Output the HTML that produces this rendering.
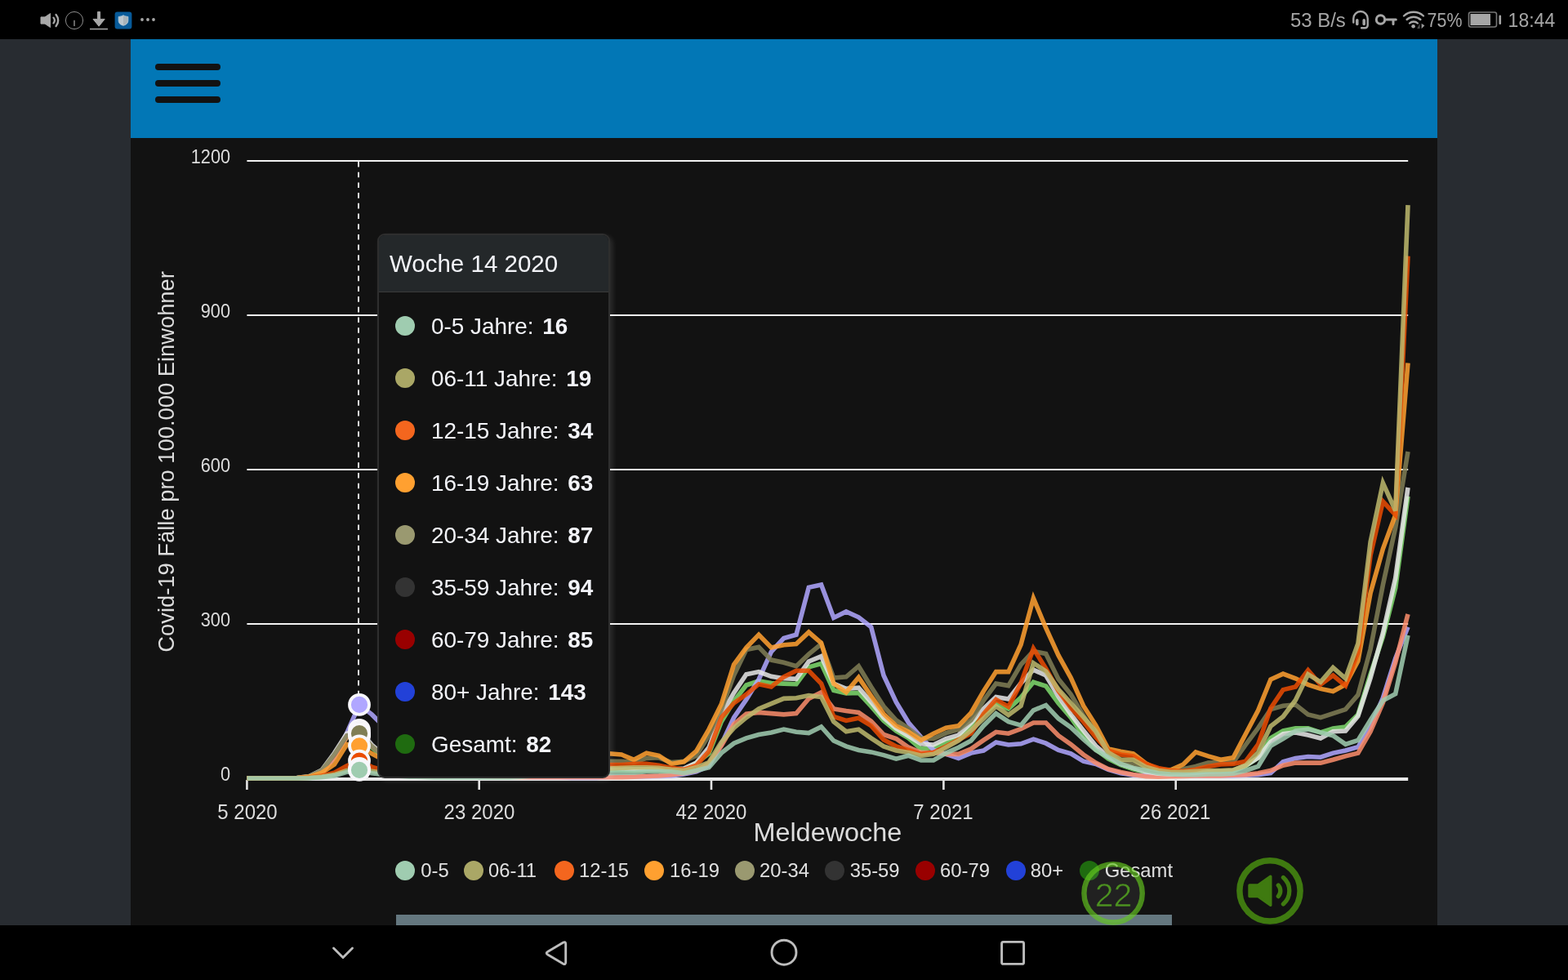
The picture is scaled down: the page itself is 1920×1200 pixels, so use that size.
<!DOCTYPE html>
<html lang="de">
<head>
<meta charset="utf-8">
<title>Covid-19 Fälle pro 100.000 Einwohner</title>
<style>

html,body{margin:0;padding:0;}
body{width:1920px;height:1200px;overflow:hidden;background:#282c31;position:relative;
  font-family:"Liberation Sans","DejaVu Sans",sans-serif;color:#e6e6e6;}
.statusbar{position:absolute;left:0;top:0;width:1920px;height:48px;background:#000;}
.statusbar svg{position:absolute;left:0;top:0;}
.sbt text{font-family:"Liberation Sans","DejaVu Sans",sans-serif;font-size:24.6px;fill:#a6a6a6;}
.appbar{position:absolute;left:160px;top:48px;width:1600px;height:121px;background:#0277b6;}
.burger{position:absolute;left:30px;top:30px;width:80px;height:48px;}
.burger span{position:absolute;left:0;width:80px;height:8px;border-radius:4px;background:#121212;}
.chart{position:absolute;left:160px;top:169px;width:1600px;height:964px;background:#121212;overflow:hidden;}
.plot{position:absolute;left:-160px;top:-169px;}
.grid{stroke:#f2f2f2;stroke-width:2;}
.axis{stroke:#e8e8e8;stroke-width:4;}
.tick{stroke:#e4e4e4;stroke-width:2.6;}
.cursor{stroke:#e0e0e0;stroke-width:2;stroke-dasharray:6.6 6.1;}
.series polyline{fill:none;stroke-width:5.6;stroke-linejoin:miter;stroke-linecap:butt;opacity:.86;}
.dots circle{stroke:#f8f7fb;stroke-width:3.8;}
.plot text{font-family:"Liberation Sans","DejaVu Sans",sans-serif;fill:#dcdcdc;}
.ylab{font-size:23px;text-anchor:end;}
.xlab{font-size:25px;text-anchor:middle;}
.xtitle{font-size:31px;text-anchor:middle;fill:#d9dfdc;}
.ytitle{font-size:28px;text-anchor:middle;fill:#d3dbd6;}
.tip{position:absolute;left:302px;top:117px;width:285px;height:667px;box-sizing:border-box;
  background:#121212;border:2px solid #2e2e2e;border-radius:9px;overflow:hidden;
  box-shadow:3px 3px 6px rgba(255,255,255,.12);}
.tip h3{margin:0;height:69px;line-height:70px;padding-left:13px;font-weight:400;font-size:29.5px;color:#f3f4f9;
  background:#24282a;border-bottom:1px solid #3a3a3a;white-space:nowrap;}
.tip ul{list-style:none;margin:0;padding:9px 0 0 0;}
.tip li{position:relative;height:64px;line-height:65px;padding-left:64px;font-size:27.9px;color:#f3f4f9;white-space:nowrap;}
.tip li i{position:absolute;left:20px;top:20px;width:24px;height:24px;border-radius:50%;}
.tip li b{font-weight:700;margin-left:3px;}
.legend{position:absolute;left:0;top:0;}
.legend span{position:absolute;top:884px;height:26px;line-height:26px;font-size:23.8px;color:#e0e0e0;white-space:nowrap;}
.legend i{position:absolute;top:885px;width:24px;height:24px;border-radius:50%;}
.navbar{position:absolute;left:0;top:1133px;width:1920px;height:67px;background:#000;}
.scroll{position:absolute;left:325px;top:951px;width:950px;height:13px;background:#64777f;}
.fab{position:absolute;}
</style>
</head>
<body>
<div class="statusbar">
<svg width="1920" height="48" viewBox="0 0 1920 48">
<g fill="#a8a8a8" stroke="none">
<path d="M50 20.900h5l6.600-4.400v17l-6.600-4.400h-5z" stroke="#a8a8a8" stroke-width="1" stroke-linejoin="round"/>
<path d="M119.600 14.400h3v9h5.600l-7.100 8.800-7.100-8.800h5.600z" stroke="#a8a8a8" stroke-width="1" stroke-linejoin="round"/>
<rect x="110" y="34.8" width="22" height="1.5"/>
<circle cx="174" cy="24" r="1.9"/><circle cx="181" cy="24" r="1.9"/><circle cx="188" cy="24" r="1.9"/>
</g>
<g fill="none" stroke="#a8a8a8" stroke-linecap="round"><path d="M65.500 21.600a5.400 5.400 0 0 1 0 6.800" stroke-width="2.300"/><path d="M68.600 17.900a11 11 0 0 1 0 14.200" stroke-width="2.400"/></g>
<circle cx="91" cy="25" r="10.6" fill="none" stroke="#8c8c8c" stroke-width="1"/>
<rect x="90.100" y="24.800" width="1.800" height="7.200" fill="#727272"/>
<rect x="140.600" y="14.600" width="20.800" height="20.800" rx="3" fill="#075a99"/>
<path d="M151 18.700c1.900 1.100 3.800 1.500 5.900 1.700v4.800c0 3.400-2.500 5.200-5.900 6.100c-3.400-.9-5.900-2.700-5.900-6.100v-4.800c2.100-.2 4-.6 5.900-1.700z" fill="#bcc7ce" stroke="#a9c6dc" stroke-width=".8" stroke-linejoin="round"/>
<path d="M151 19.200c1.800 1 3.600 1.300 5.400 1.500v4.500c0 3-2.200 4.700-5.400 5.600z" fill="#a7b2b9"/>
<g fill="none" stroke="#a6a6a6" stroke-width="2.4" stroke-linecap="round">
<path d="M1657.300 27.600v-4.900a8.700 8.700 0 0 1 17.400 0v8.400a3.200 3.200 0 0 1-3.200 3.200h-4.400"/>
<path d="M1661.800 24.800v4.800" stroke-width="3.500"/><path d="M1670.200 24.800v4.800" stroke-width="3.500"/>
<circle cx="1690.500" cy="24" r="5.200" stroke-width="3"/>
<path d="M1696 24h13.300M1706 24v5.600" stroke-width="3" stroke-linecap="round"/>
<path d="M1719 19.500a17.500 17.500 0 0 1 24 0"/>
<path d="M1722.600 24a12.300 12.300 0 0 1 16.800 0"/>
<path d="M1726 28.500a7.300 7.300 0 0 1 10 0"/>
<rect x="1798.500" y="15" width="34" height="18" rx="2.500" stroke="#777" stroke-width="1.600"/>
</g>
<circle cx="1730.600" cy="32.300" r="2.300" fill="#a6a6a6"/>
<path d="M1738.600 28.800v6.300h-3.400z" fill="#505050"/><path d="M1740.600 28.800l3.800 2.400-3.800 4z" fill="#9a9a9a"/>
<rect x="1800.500" y="17" width="24.500" height="14" fill="#a6a6a6"/>
<rect x="1835.500" y="18.500" width="2.600" height="11.500" rx="1.300" fill="#a6a6a6"/>
<g class="sbt">
<text x="1580" y="33.1" textLength="67.8" lengthAdjust="spacingAndGlyphs">53 B/s</text>
<text x="1747.6" y="33.1" textLength="42.8" lengthAdjust="spacingAndGlyphs">75%</text>
<text x="1846.6" y="33.1" textLength="57.6" lengthAdjust="spacingAndGlyphs">18:44</text>
</g>
</svg>
</div>
<div class="appbar"><div class="burger"><span style="top:0"></span><span style="top:20px"></span><span style="top:40px"></span></div></div>
<div class="chart">
<svg class="plot" width="1920" height="1200" viewBox="0 0 1920 1200">
<line class="grid" x1="302.4" x2="1724.2" y1="197" y2="197"/>
<line class="grid" x1="302.4" x2="1724.2" y1="386" y2="386"/>
<line class="grid" x1="302.4" x2="1724.2" y1="575" y2="575"/>
<line class="grid" x1="302.4" x2="1724.2" y1="764" y2="764"/>
<line class="axis" x1="302.4" x2="1724.2" y1="954" y2="954"/>
<line class="tick" x1="302.4" x2="302.4" y1="955" y2="967"/>
<line class="tick" x1="586.7" x2="586.7" y1="955" y2="967"/>
<line class="tick" x1="871.0" x2="871.0" y1="955" y2="967"/>
<line class="tick" x1="1155.4" x2="1155.4" y1="955" y2="967"/>
<line class="tick" x1="1439.7" x2="1439.7" y1="955" y2="967"/>
<line class="cursor" x1="439" x2="439" y1="198" y2="850"/>
<g class="series">
<polyline stroke="#7fda6d" points="302.4,953.0 317.7,953.0 333.0,953.0 348.3,953.0 363.5,952.7 378.8,951.1 394.1,944.8 409.4,925.9 424.7,902.6 440.0,901.3 455.3,915.2 470.5,927.8 485.8,935.4 501.1,940.4 516.4,943.5 531.7,945.4 547.0,946.7 562.3,947.3 577.5,947.3 592.8,947.3 608.1,946.7 623.4,946.7 638.7,946.1 654.0,946.1 669.3,945.4 684.6,944.8 699.8,944.2 715.1,943.5 730.4,942.9 745.7,942.9 761.0,942.9 776.3,943.5 791.6,942.9 806.8,942.9 822.1,944.2 837.4,942.9 852.7,934.1 868.0,922.8 883.3,883.7 898.6,858.5 913.8,839.0 929.1,833.9 944.4,836.5 959.7,837.1 975.0,837.7 990.3,816.9 1005.6,812.5 1020.8,845.3 1036.1,849.0 1051.4,848.4 1066.7,864.8 1082.0,882.4 1097.3,895.0 1112.6,903.9 1127.8,917.1 1143.1,915.2 1158.4,908.9 1173.7,904.5 1189.0,890.0 1204.3,874.2 1219.6,861.6 1234.8,868.0 1250.1,854.1 1265.4,835.2 1280.7,840.2 1296.0,861.0 1311.3,878.7 1326.6,900.7 1341.8,917.7 1357.1,929.1 1372.4,936.6 1387.7,941.7 1403.0,945.4 1418.3,948.0 1433.6,948.6 1448.9,948.0 1464.1,946.7 1479.4,945.4 1494.7,944.8 1510.0,944.2 1525.3,937.9 1540.6,927.8 1555.9,903.9 1571.1,895.0 1586.4,891.9 1601.7,891.9 1617.0,896.9 1632.3,891.9 1647.6,890.0 1662.9,874.9 1678.1,825.7 1693.4,779.8 1708.7,719.9 1724.0,607.8"/>
<polyline stroke="#b0a6ff" points="302.4,953.0 317.7,953.0 333.0,953.0 348.3,953.0 363.5,952.8 378.8,951.7 394.1,946.7 409.4,927.8 424.7,897.6 440.0,862.9 455.3,874.9 470.5,890.0 485.8,905.8 501.1,918.4 516.4,927.8 531.7,935.4 547.0,940.4 562.3,944.2 577.5,946.7 592.8,948.6 608.1,949.9 623.4,950.5 638.7,951.1 654.0,951.7 669.3,951.7 684.6,951.7 699.8,952.4 715.1,952.4 730.4,952.4 745.7,951.1 761.0,951.1 776.3,951.1 791.6,950.8 806.8,950.5 822.1,949.9 837.4,948.0 852.7,944.8 868.0,937.9 883.3,911.4 898.6,878.7 913.8,856.6 929.1,832.0 944.4,798.0 959.7,781.6 975.0,777.2 990.3,719.3 1005.6,716.1 1020.8,756.4 1036.1,748.9 1051.4,755.8 1066.7,767.8 1082.0,827.0 1097.3,859.8 1112.6,885.0 1127.8,902.6 1143.1,918.4 1158.4,923.4 1173.7,928.4 1189.0,922.1 1204.3,919.0 1219.6,908.9 1234.8,912.0 1250.1,910.8 1265.4,905.1 1280.7,910.2 1296.0,918.4 1311.3,922.8 1326.6,932.2 1341.8,935.4 1357.1,942.3 1372.4,946.7 1387.7,949.2 1403.0,949.9 1418.3,949.9 1433.6,949.9 1448.9,949.9 1464.1,949.9 1479.4,949.9 1494.7,949.9 1510.0,949.9 1525.3,949.2 1540.6,948.6 1555.9,946.7 1571.1,932.8 1586.4,928.4 1601.7,926.5 1617.0,927.2 1632.3,922.1 1647.6,919.0 1662.9,914.6 1678.1,890.0 1693.4,854.7 1708.7,806.2 1724.0,767.8"/>
<polyline stroke="#fa8d6b" points="302.4,953.0 317.7,953.0 333.0,953.0 348.3,953.0 363.5,952.7 378.8,951.1 394.1,945.4 409.4,926.5 424.7,902.6 440.0,899.5 455.3,913.9 470.5,925.3 485.8,932.8 501.1,938.5 516.4,942.9 531.7,946.1 547.0,948.0 562.3,949.2 577.5,949.9 592.8,950.5 608.1,951.1 623.4,951.1 638.7,951.7 654.0,951.7 669.3,951.7 684.6,951.7 699.8,951.7 715.1,951.7 730.4,951.7 745.7,951.7 761.0,951.7 776.3,951.1 791.6,950.5 806.8,949.9 822.1,948.6 837.4,946.7 852.7,943.5 868.0,934.7 883.3,913.3 898.6,886.9 913.8,874.2 929.1,872.4 944.4,873.6 959.7,874.9 975.0,873.6 990.3,855.4 1005.6,847.8 1020.8,868.0 1036.1,870.5 1051.4,872.4 1066.7,883.1 1082.0,899.5 1097.3,904.5 1112.6,915.2 1127.8,921.5 1143.1,921.5 1158.4,923.4 1173.7,923.4 1189.0,917.1 1204.3,906.4 1219.6,896.3 1234.8,898.2 1250.1,892.5 1265.4,885.0 1280.7,885.0 1296.0,900.7 1311.3,911.4 1326.6,924.0 1341.8,934.1 1357.1,941.7 1372.4,945.4 1387.7,948.6 1403.0,950.8 1418.3,951.1 1433.6,950.8 1448.9,950.5 1464.1,949.9 1479.4,949.9 1494.7,949.9 1510.0,949.2 1525.3,948.6 1540.6,946.7 1555.9,943.5 1571.1,937.2 1586.4,934.1 1601.7,934.1 1617.0,934.1 1632.3,930.3 1647.6,925.9 1662.9,922.1 1678.1,895.7 1693.4,860.4 1708.7,811.2 1724.0,752.0"/>
<polyline stroke="#e6e6e6" points="302.4,953.0 317.7,953.0 333.0,953.0 348.3,953.0 363.5,952.6 378.8,950.5 394.1,942.9 409.4,922.1 424.7,898.2 440.0,893.8 455.3,912.0 470.5,925.3 485.8,933.5 501.1,938.5 516.4,942.3 531.7,944.2 547.0,945.4 562.3,946.1 577.5,946.1 592.8,946.1 608.1,945.4 623.4,945.4 638.7,944.8 654.0,944.2 669.3,943.5 684.6,942.9 699.8,942.3 715.1,941.7 730.4,941.0 745.7,940.4 761.0,941.0 776.3,941.7 791.6,941.7 806.8,941.7 822.1,942.3 837.4,941.0 852.7,934.1 868.0,915.2 883.3,874.9 898.6,848.4 913.8,825.7 929.1,822.6 944.4,828.3 959.7,830.8 975.0,831.4 990.3,810.0 1005.6,803.7 1020.8,837.1 1036.1,843.4 1051.4,842.1 1066.7,859.8 1082.0,878.7 1097.3,891.9 1112.6,901.3 1127.8,910.8 1143.1,912.0 1158.4,904.5 1173.7,900.1 1189.0,885.0 1204.3,868.0 1219.6,853.5 1234.8,856.0 1250.1,836.5 1265.4,820.1 1280.7,827.0 1296.0,852.8 1311.3,874.9 1326.6,894.4 1341.8,913.3 1357.1,926.5 1372.4,935.4 1387.7,940.4 1403.0,944.8 1418.3,947.3 1433.6,948.0 1448.9,947.3 1464.1,946.1 1479.4,944.8 1494.7,944.2 1510.0,943.5 1525.3,937.2 1540.6,927.8 1555.9,908.3 1571.1,898.8 1586.4,896.9 1601.7,900.1 1617.0,903.9 1632.3,895.7 1647.6,895.0 1662.9,876.8 1678.1,830.1 1693.4,775.3 1708.7,707.9 1724.0,597.0"/>
<polyline stroke="#807e55" points="302.4,953.0 317.7,953.0 333.0,953.0 348.3,953.0 363.5,952.6 378.8,950.5 394.1,943.5 409.4,924.0 424.7,900.7 440.0,898.2 455.3,913.9 470.5,926.5 485.8,934.1 501.1,939.1 516.4,942.3 531.7,943.5 547.0,944.2 562.3,944.2 577.5,943.5 592.8,942.9 608.1,942.3 623.4,941.0 638.7,939.8 654.0,938.5 669.3,937.2 684.6,936.0 699.8,934.7 715.1,933.5 730.4,932.8 745.7,932.2 761.0,932.2 776.3,933.5 791.6,928.4 806.8,927.8 822.1,933.5 837.4,932.2 852.7,925.3 868.0,900.1 883.3,869.2 898.6,827.0 913.8,795.5 929.1,792.4 944.4,808.1 959.7,811.2 975.0,815.7 990.3,801.2 1005.6,788.6 1020.8,830.1 1036.1,828.9 1051.4,815.7 1066.7,840.9 1082.0,864.8 1097.3,881.8 1112.6,891.9 1127.8,903.9 1143.1,904.5 1158.4,897.6 1173.7,893.1 1189.0,881.8 1204.3,857.9 1219.6,837.1 1234.8,839.6 1250.1,813.8 1265.4,797.4 1280.7,800.5 1296.0,831.4 1311.3,850.3 1326.6,876.1 1341.8,898.8 1357.1,921.5 1372.4,934.1 1387.7,935.4 1403.0,942.3 1418.3,944.8 1433.6,944.8 1448.9,941.7 1464.1,938.5 1479.4,934.1 1494.7,933.5 1510.0,933.5 1525.3,912.0 1540.6,891.3 1555.9,868.6 1571.1,864.2 1586.4,862.9 1601.7,874.9 1617.0,878.7 1632.3,873.6 1647.6,868.6 1662.9,850.9 1678.1,794.9 1693.4,716.1 1708.7,646.2 1724.0,553.0"/>
<polyline stroke="#ffa030" points="302.4,953.0 317.7,953.0 333.0,953.0 348.3,953.0 363.5,952.7 378.8,951.1 394.1,946.1 409.4,936.0 424.7,911.4 440.0,913.3 455.3,922.8 470.5,931.0 485.8,937.2 501.1,941.7 516.4,944.2 531.7,945.4 547.0,945.4 562.3,944.8 577.5,944.2 592.8,942.9 608.1,941.7 623.4,940.4 638.7,937.9 654.0,935.4 669.3,932.8 684.6,930.3 699.8,927.8 715.1,925.3 730.4,923.4 745.7,922.8 761.0,924.0 776.3,930.3 791.6,922.1 806.8,925.3 822.1,935.4 837.4,932.8 852.7,919.6 868.0,893.1 883.3,862.3 898.6,813.8 913.8,793.0 929.1,777.2 944.4,793.0 959.7,789.8 975.0,788.6 990.3,774.1 1005.6,787.3 1020.8,837.1 1036.1,847.8 1051.4,829.5 1066.7,852.2 1082.0,874.2 1097.3,888.7 1112.6,896.3 1127.8,906.4 1143.1,898.2 1158.4,891.3 1173.7,888.7 1189.0,873.0 1204.3,846.5 1219.6,822.6 1234.8,822.6 1250.1,789.2 1265.4,732.5 1280.7,769.0 1296.0,802.4 1311.3,830.1 1326.6,864.2 1341.8,888.1 1357.1,917.1 1372.4,920.2 1387.7,922.8 1403.0,934.7 1418.3,942.3 1433.6,942.9 1448.9,936.0 1464.1,920.9 1479.4,925.9 1494.7,930.3 1510.0,927.8 1525.3,898.8 1540.6,869.8 1555.9,832.0 1571.1,825.1 1586.4,830.8 1601.7,838.3 1617.0,843.4 1632.3,846.5 1647.6,838.3 1662.9,809.4 1678.1,726.2 1693.4,672.0 1708.7,630.4 1724.0,444.6"/>
<polyline stroke="#ea4c02" points="302.4,953.0 317.7,953.0 333.0,953.0 348.3,953.0 363.5,952.8 378.8,952.1 394.1,949.9 409.4,946.1 424.7,937.9 440.0,931.6 455.3,939.1 470.5,943.5 485.8,946.7 501.1,948.0 516.4,949.2 531.7,949.2 547.0,949.2 562.3,948.6 577.5,948.0 592.8,947.3 608.1,946.7 623.4,945.4 638.7,944.8 654.0,943.5 669.3,942.3 684.6,941.0 699.8,939.8 715.1,938.5 730.4,937.2 745.7,936.6 761.0,936.6 776.3,935.4 791.6,935.4 806.8,937.2 822.1,940.4 837.4,942.3 852.7,937.2 868.0,920.2 883.3,878.7 898.6,861.0 913.8,850.3 929.1,837.7 944.4,840.9 959.7,828.9 975.0,821.3 990.3,821.3 1005.6,837.1 1020.8,877.4 1036.1,882.4 1051.4,879.3 1066.7,888.7 1082.0,905.8 1097.3,913.9 1112.6,918.4 1127.8,923.4 1143.1,921.5 1158.4,913.9 1173.7,905.8 1189.0,898.2 1204.3,874.2 1219.6,856.6 1234.8,865.4 1250.1,836.5 1265.4,794.2 1280.7,818.8 1296.0,845.9 1311.3,866.7 1326.6,883.7 1341.8,902.6 1357.1,919.0 1372.4,924.0 1387.7,925.9 1403.0,935.4 1418.3,940.4 1433.6,943.5 1448.9,944.2 1464.1,942.3 1479.4,938.5 1494.7,936.0 1510.0,935.4 1525.3,932.2 1540.6,911.4 1555.9,867.3 1571.1,844.6 1586.4,840.9 1601.7,820.7 1617.0,838.3 1632.3,827.0 1647.6,839.6 1662.9,798.6 1678.1,680.2 1693.4,614.1 1708.7,630.4 1724.0,313.5"/>
<polyline stroke="#bdb86c" points="302.4,953.0 317.7,953.0 333.0,953.0 348.3,953.0 363.5,953.0 378.8,952.4 394.1,951.1 409.4,948.6 424.7,943.5 440.0,941.0 455.3,944.2 470.5,946.7 485.8,948.6 501.1,949.9 516.4,950.5 531.7,950.5 547.0,950.5 562.3,949.9 577.5,949.9 592.8,949.2 608.1,948.6 623.4,948.0 638.7,947.3 654.0,946.7 669.3,945.4 684.6,944.2 699.8,943.5 715.1,942.3 730.4,941.7 745.7,941.0 761.0,940.4 776.3,939.8 791.6,939.8 806.8,940.4 822.1,942.3 837.4,943.5 852.7,939.8 868.0,933.5 883.3,908.9 898.6,891.3 913.8,878.7 929.1,868.0 944.4,861.6 959.7,855.4 975.0,854.7 990.3,851.6 1005.6,853.5 1020.8,883.7 1036.1,895.7 1051.4,893.1 1066.7,903.9 1082.0,913.9 1097.3,919.0 1112.6,921.5 1127.8,925.3 1143.1,923.4 1158.4,915.2 1173.7,907.0 1189.0,894.4 1204.3,879.9 1219.6,864.8 1234.8,875.5 1250.1,864.2 1265.4,811.9 1280.7,822.0 1296.0,844.0 1311.3,861.0 1326.6,878.0 1341.8,895.7 1357.1,921.5 1372.4,930.3 1387.7,930.3 1403.0,939.1 1418.3,943.5 1433.6,945.4 1448.9,945.4 1464.1,944.2 1479.4,943.5 1494.7,943.5 1510.0,942.9 1525.3,937.2 1540.6,921.5 1555.9,889.4 1571.1,877.4 1586.4,857.2 1601.7,825.7 1617.0,835.2 1632.3,817.5 1647.6,830.8 1662.9,787.9 1678.1,663.8 1693.4,591.4 1708.7,625.4 1724.0,251.2"/>
<polyline stroke="#9fccb0" points="302.4,953.0 317.7,953.0 333.0,953.0 348.3,953.0 363.5,953.0 378.8,952.7 394.1,951.7 409.4,949.9 424.7,945.4 440.0,942.9 455.3,946.7 470.5,948.6 485.8,949.9 501.1,951.1 516.4,951.4 531.7,952.2 547.0,952.2 562.3,952.2 577.5,952.2 592.8,952.2 608.1,952.2 623.4,952.1 638.7,951.1 654.0,949.9 669.3,949.2 684.6,948.6 699.8,948.0 715.1,947.3 730.4,946.7 745.7,946.7 761.0,946.1 776.3,946.1 791.6,944.8 806.8,944.8 822.1,944.8 837.4,946.7 852.7,943.5 868.0,939.8 883.3,922.1 898.6,910.2 913.8,903.9 929.1,899.5 944.4,896.9 959.7,893.1 975.0,896.3 990.3,897.6 1005.6,890.0 1020.8,907.0 1036.1,913.9 1051.4,918.4 1066.7,920.9 1082.0,924.6 1097.3,929.1 1112.6,925.3 1127.8,931.0 1143.1,931.0 1158.4,922.1 1173.7,915.2 1189.0,907.0 1204.3,888.7 1219.6,873.6 1234.8,883.7 1250.1,888.1 1265.4,869.8 1280.7,863.5 1296.0,879.9 1311.3,890.6 1326.6,905.1 1341.8,918.4 1357.1,927.2 1372.4,935.4 1387.7,940.4 1403.0,943.5 1418.3,946.7 1433.6,948.0 1448.9,948.6 1464.1,948.6 1479.4,948.0 1494.7,948.0 1510.0,947.3 1525.3,943.5 1540.6,938.5 1555.9,913.3 1571.1,904.5 1586.4,895.0 1601.7,893.1 1617.0,896.9 1632.3,900.7 1647.6,911.4 1662.9,906.4 1678.1,881.8 1693.4,857.9 1708.7,849.7 1724.0,777.9"/>
</g>
<g class="dots">
<circle cx="440.0" cy="901.3" r="12" fill="#7fda6d"/>
<circle cx="440.0" cy="862.9" r="12" fill="#b0a6ff"/>
<circle cx="440.0" cy="899.5" r="12" fill="#fa8d6b"/>
<circle cx="440.0" cy="893.8" r="12" fill="#e6e6e6"/>
<circle cx="440.0" cy="898.2" r="12" fill="#807e55"/>
<circle cx="440.0" cy="913.3" r="12" fill="#ffa030"/>
<circle cx="440.0" cy="931.6" r="12" fill="#ea4c02"/>
<circle cx="440.0" cy="941.0" r="12" fill="#bdb86c"/>
<circle cx="440.0" cy="942.9" r="12" fill="#9fccb0"/>
</g>
<text class="ylab" x="282" y="200.1" textLength="48.2" lengthAdjust="spacingAndGlyphs">1200</text>
<text class="ylab" x="282" y="389.1" textLength="36.2" lengthAdjust="spacingAndGlyphs">900</text>
<text class="ylab" x="282" y="578.1" textLength="36.2" lengthAdjust="spacingAndGlyphs">600</text>
<text class="ylab" x="282" y="767.1" textLength="36.2" lengthAdjust="spacingAndGlyphs">300</text>
<text class="ylab" x="282" y="956.1" textLength="12.1" lengthAdjust="spacingAndGlyphs">0</text>
<text class="xlab" x="303" y="1003.2" textLength="73.4" lengthAdjust="spacingAndGlyphs">5 2020</text>
<text class="xlab" x="587" y="1003.2" textLength="86.8" lengthAdjust="spacingAndGlyphs">23 2020</text>
<text class="xlab" x="871" y="1003.2" textLength="86.8" lengthAdjust="spacingAndGlyphs">42 2020</text>
<text class="xlab" x="1155" y="1003.2" textLength="73.4" lengthAdjust="spacingAndGlyphs">7 2021</text>
<text class="xlab" x="1439" y="1003.2" textLength="86.8" lengthAdjust="spacingAndGlyphs">26 2021</text>
<text class="xtitle" x="1013.4" y="1029.8" textLength="182" lengthAdjust="spacingAndGlyphs">Meldewoche</text>
<text class="ytitle" transform="translate(213 565.4) rotate(-90)" textLength="466.5" lengthAdjust="spacingAndGlyphs">Covid-19 Fälle pro 100.000 Einwohner</text>
</svg>
<div class="tip">
<h3>Woche 14 2020</h3>
<ul>
<li><i style="background:#9fccb0"></i>0-5 Jahre: <b>16</b></li>
<li><i style="background:#aaa766"></i>06-11 Jahre: <b>19</b></li>
<li><i style="background:#f4661e"></i>12-15 Jahre: <b>34</b></li>
<li><i style="background:#ffa030"></i>16-19 Jahre: <b>63</b></li>
<li><i style="background:#9a9970"></i>20-34 Jahre: <b>87</b></li>
<li><i style="background:#333333"></i>35-59 Jahre: <b>94</b></li>
<li><i style="background:#990000"></i>60-79 Jahre: <b>85</b></li>
<li><i style="background:#2241d8"></i>80+ Jahre: <b>143</b></li>
<li><i style="background:#1f6b10"></i>Gesamt: <b>82</b></li>
</ul>
</div>
<div class="legend">
<i style="left:324.0px;background:#9fccb0"></i><span style="left:355.3px">0-5</span>
<i style="left:408.0px;background:#aaa766"></i><span style="left:438.0px">06-11</span>
<i style="left:519.0px;background:#f4661e"></i><span style="left:549.0px">12-15</span>
<i style="left:629.0px;background:#ffa030"></i><span style="left:660.0px">16-19</span>
<i style="left:740.0px;background:#9a9970"></i><span style="left:770.0px">20-34</span>
<i style="left:850.0px;background:#333333"></i><span style="left:880.7px">35-59</span>
<i style="left:960.7px;background:#990000"></i><span style="left:991.0px">60-79</span>
<i style="left:1072.0px;background:#2241d8"></i><span style="left:1101.7px">80+</span>
<i style="left:1162.0px;background:#1f6b10"></i><span style="left:1192.7px">Gesamt</span>
</div>
<div class="scroll"></div>
<svg class="fab" style="left:1160px;top:880px" width="90" height="90" viewBox="1320 1049 90 90">
<circle cx="1363.1" cy="1093.8" r="35.7" fill="rgba(255,255,255,.065)" stroke="rgba(100,200,30,.66)" stroke-width="6.4"/>
<text x="1363.6" y="1110" text-anchor="middle" font-family="'Liberation Sans','DejaVu Sans',sans-serif" font-size="41" fill="#4c9220" stroke="#212121" stroke-width="0.7">22</text>
</svg>
<svg class="fab" style="left:1350px;top:877px" width="90" height="90" viewBox="1510 1046 90 90">
<circle cx="1555" cy="1090.8" r="37.1" fill="none" stroke="#3f7a10" stroke-width="7.5"/>
<path d="M1530 1084h10.6l15.2-10.8v35.2l-15.2-10.800h-10.600z" fill="#3f7a10" stroke="#3f7a10" stroke-width="3.4" stroke-linejoin="round"/>
<g fill="none" stroke="#3f7a10" stroke-width="5.3" stroke-linecap="round">
<path d="M1565.3 1084a10.4 10.4 0 0 1 0 13.6"/>
<path d="M1571.4 1074.6a21.4 21.4 0 0 1 0 32.4"/>
</g>
</svg>
</div>
<div class="navbar">
<svg width="1920" height="67" viewBox="0 1133 1920 67">
<g fill="none" stroke="#bdbdbd" stroke-width="2.9" stroke-linejoin="round" stroke-linecap="round">
<path d="M408.500 1161l11.500 11.500 11.500-11.500"/>
<path d="M689.38 1154.26 Q692.70 1152.30 692.70 1156.15 L692.70 1178.05 Q692.70 1181.90 689.38 1179.94 L670.81 1169.00 Q667.60 1167.10 670.81 1165.20Z"/>
<circle cx="960" cy="1166.2" r="15"/>
<rect x="1226.600" y="1153.400" width="27" height="27" rx="2"/>
</g>
</svg>
</div>
</body>
</html>
